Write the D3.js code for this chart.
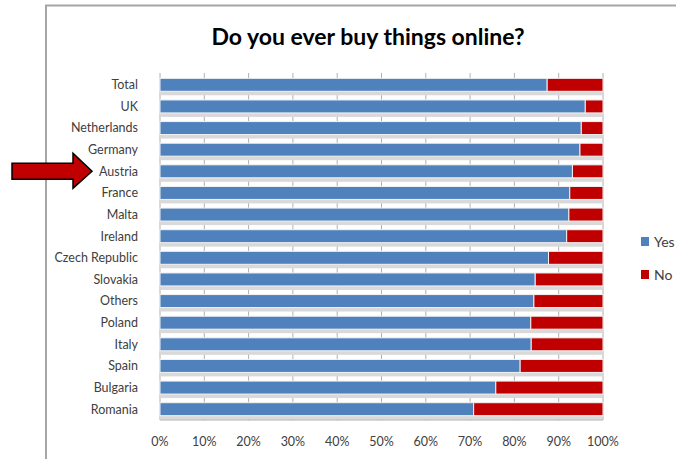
<!DOCTYPE html>
<html lang="en">
<head>
<meta charset="UTF-8">
<title>Do you ever buy things online?</title>
<script src="https://cdn.jsdelivr.net/npm/d3@7"></script>
<style>
  body { margin: 0; background: #fff; }
  text { font-family: Lato, "Open Sans", sans-serif; }
</style>
</head>
<body>
<div id="chart"></div>
<script>
var width = 676;
var height = 459;

// data
var countries = ["Total", "UK", "Netherlands", "Germany", "Austria", "France", "Malta", "Ireland",
                 "Czech Republic", "Slovakia", "Others", "Poland", "Italy", "Spain", "Bulgaria", "Romania"];
var yesValues = [87.4, 96.0, 95.1, 94.8, 93.1, 92.5, 92.3, 91.8, 87.7, 84.7, 84.4, 83.7, 83.8, 81.3, 75.8, 70.8];
var noValues = yesValues.map(function (v) { return 100 - v; });
var seriesNames = ["Yes", "No"];
var colors = ["#4f81bd", "#c00000"];
var tickValues = [0, 10, 20, 30, 40, 50, 60, 70, 80, 90, 100];

var svg = d3.select("#chart")
    .append("svg")
    .attr("width", width)
    .attr("height", height);

// outer frame
svg.append("path")
    .attr("d", "M46," + height + "V5.5H" + width)
    .attr("fill", "none")
    .attr("stroke", "#a6a6a6")
    .attr("stroke-width", 2);

svg.append("text")
    .attr("x", 368)
    .attr("y", 45)
    .attr("text-anchor", "middle")
    .attr("font-size", 23)
    .attr("font-weight", "bold")
    .attr("fill", "#000")
    .text("Do you ever buy things online?");

var x = d3.scaleLinear().domain([0, 100]).range([160, 603]);
var y = d3.scaleBand().domain(countries).range([74, 420]).paddingInner(0.4).paddingOuter(0.2);

// vertical grid lines
svg.append("g").selectAll("line")
    .data(tickValues)
    .enter()
    .append("line")
    .attr("x1", function (d) { return x(d); })
    .attr("x2", function (d) { return x(d); })
    .attr("y1", 73)
    .attr("y2", 420)
    .attr("stroke", "#b0b0b0")
    .attr("stroke-width", 1);

// shadow under bars
svg.append("g").selectAll("rect")
    .data(countries)
    .enter()
    .append("rect")
    .attr("x", x(0))
    .attr("y", function (d) { return y(d) + y.bandwidth(); })
    .attr("width", x(100) - x(0))
    .attr("height", 4)
    .attr("fill", "#d9d9d9");

var stack = countries.map(function (c, i) {
    return [
        { name: c, s: 0, x0: 0, x1: yesValues[i] },
        { name: c, s: 1, x0: yesValues[i], x1: yesValues[i] + noValues[i] }
    ];
});

svg.append("g").selectAll("g")
    .data(stack)
    .enter()
    .append("g")
    .selectAll("rect")
    .data(function (d) { return d; })
    .enter()
    .append("rect")
    .attr("x", function (d) { return x(d.x0); })
    .attr("y", function (d) { return y(d.name); })
    .attr("width", function (d) { return x(d.x1) - x(d.x0); })
    .attr("height", y.bandwidth())
    .attr("fill", function (d) { return colors[d.s]; })
    .attr("stroke", "#f2f2f2")
    .attr("stroke-width", 1);

// baseline at bottom
svg.append("line")
    .attr("x1", x(0)).attr("x2", x(100))
    .attr("y1", 420).attr("y2", 420)
    .attr("stroke", "#b0b0b0");

// category labels
svg.append("g").selectAll("text")
    .data(countries)
    .enter()
    .append("text")
    .attr("x", 138)
    .attr("y", function (d) { return y(d) + y.bandwidth() / 2; })
    .attr("dy", "0.35em")
    .attr("text-anchor", "end")
    .attr("font-size", 12.5)
    .attr("fill", "#404040")
    .text(function (d) { return d; });

// x axis labels
svg.append("g").selectAll("text")
    .data(tickValues)
    .enter()
    .append("text")
    .attr("x", function (d) { return x(d); })
    .attr("y", 446)
    .attr("text-anchor", "middle")
    .attr("font-size", 12.5)
    .attr("fill", "#404040")
    .text(function (d) { return d + "%"; });

// legend
var legend = svg.append("g").selectAll("g")
    .data(seriesNames)
    .enter()
    .append("g")
    .attr("transform", function (d, i) { return "translate(641," + (237 + i * 33) + ")"; });

legend.append("rect")
    .attr("width", 8)
    .attr("height", 9)
    .attr("fill", function (d, i) { return colors[i]; });

legend.append("text")
    .attr("x", 13)
    .attr("y", 5)
    .attr("dy", "0.35em")
    .attr("font-size", 14)
    .attr("fill", "#404040")
    .text(function (d) { return d; });

// arrow pointing at Austria
var ay = y("Austria") + y.bandwidth() / 2;
svg.append("path")
    .attr("d", "M12," + (ay - 8) + "H73V" + (ay - 18) + "L92," + ay + "L73," + (ay + 17) + "V" + (ay + 8) + "H12Z")
    .attr("fill", "#c00000")
    .attr("stroke", "#000")
    .attr("stroke-width", 1.5);
</script>
</body>
</html>
